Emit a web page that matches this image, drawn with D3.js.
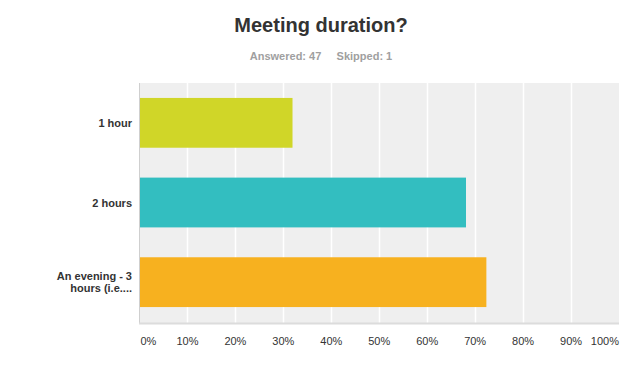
<!DOCTYPE html>
<html>
<head>
<meta charset="utf-8">
<script src="https://cdn.jsdelivr.net/npm/d3@7"></script>
<style>
  body { margin: 0; background: #fff; }
  svg { display: block; font-family: "Liberation Sans", Arial, sans-serif; }
</style>
</head>
<body>
<div id="chart"></div>
<script>
// answer choices and share of respondents (%)
var categories = ["1 hour", "2 hours", "An evening - 3 hours (i.e...."];
var labelLines = [["1 hour"], ["2 hours"], ["An evening - 3", "hours (i.e...."]];
var percents = [31.91, 68.09, 72.34];
var barColors = ["#d0d628", "#33bec0", "#f7b11f"];
var ticks = [0, 10, 20, 30, 40, 50, 60, 70, 80, 90, 100];

var width = 636, height = 368;
var margin = {top: 83, right: 17, bottom: 46, left: 139.5};
var plotBottom = height - margin.bottom; // 322

var svg = d3.select("#chart").append("svg")
    .attr("width", width)
    .attr("height", height);

// title + answered/skipped line
svg.append("text")
    .attr("x", 321)
    .attr("y", 32)
    .attr("text-anchor", "middle")
    .style("font-size", "20px")
    .style("font-weight", "bold")
    .style("fill", "#333")
    .text("Meeting duration?");

svg.append("text")
    .attr("x", 321)
    .attr("y", 60)
    .attr("text-anchor", "middle")
    .style("font-size", "11px")
    .style("font-weight", "bold")
    .style("fill", "#a0a0a0")
    .attr("xml:space", "preserve")
    .text("Answered: 47     Skipped: 1");

var x = d3.scaleLinear()
    .domain([0, 100])
    .range([margin.left, width - margin.right]);

var y = d3.scaleBand()
    .domain(categories)
    .range([margin.top, plotBottom])
    .paddingInner(0.375)
    .paddingOuter(0.1875);

// plot background
svg.append("rect")
    .attr("x", x(0))
    .attr("y", margin.top)
    .attr("width", x(100) - x(0))
    .attr("height", plotBottom + 1 - margin.top)
    .style("fill", "#efefef");

// vertical grid
svg.selectAll(".grid")
    .data(ticks.slice(1, -1))
    .enter().append("line")
    .attr("x1", function(d) { return Math.round(x(d)) + 0.5; })
    .attr("x2", function(d) { return Math.round(x(d)) + 0.5; })
    .attr("y1", margin.top)
    .attr("y2", plotBottom + 1)
    .style("stroke", "#fff")
    .style("stroke-width", 1.5);

svg.selectAll(".bar")
    .data(percents)
    .enter().append("rect")
    .attr("x", x(0) + 0.5)
    .attr("y", function(d, i) { return y(categories[i]); })
    .attr("width", function(d) { return x(d) - x(0) - 0.5; })
    .attr("height", y.bandwidth())
    .style("fill", function(d, i) { return barColors[i]; });

// axis lines
svg.append("line")
    .attr("x1", 139.5).attr("x2", 139.5)
    .attr("y1", margin.top).attr("y2", plotBottom + 2)
    .style("stroke", "#cfcfcf")
    .style("stroke-width", 1);

svg.append("line")
    .attr("x1", 139).attr("x2", x(100))
    .attr("y1", plotBottom + 1.5).attr("y2", plotBottom + 1.5)
    .style("stroke", "#dcdcdc")
    .style("stroke-width", 2);

// category labels
var catG = svg.selectAll(".cat")
    .data(categories)
    .enter().append("text")
    .attr("text-anchor", "end")
    .style("font-size", "11px")
    .style("font-weight", "bold")
    .style("fill", "#333");

catG.each(function(d, i) {
    var lines = labelLines[i];
    var cy = y(d) + y.bandwidth() / 2;
    var t = d3.select(this);
    lines.forEach(function(l, j) {
        t.append("tspan")
            .attr("x", 132)
            .attr("y", cy + 4 + (j - (lines.length - 1) / 2) * 12)
            .text(l);
    });
});

// x tick labels
svg.selectAll(".tick-label")
    .data(ticks)
    .enter().append("text")
    .attr("x", function(d) { return d === 0 ? x(d) + 1 : x(d); })
    .attr("y", 345)
    .attr("text-anchor", function(d) {
        return d === 0 ? "start" : (d === 100 ? "end" : "middle");
    })
    .style("font-size", "11px")
    .style("fill", "#333")
    .text(function(d) { return d + "%"; });
</script>
</body>
</html>
